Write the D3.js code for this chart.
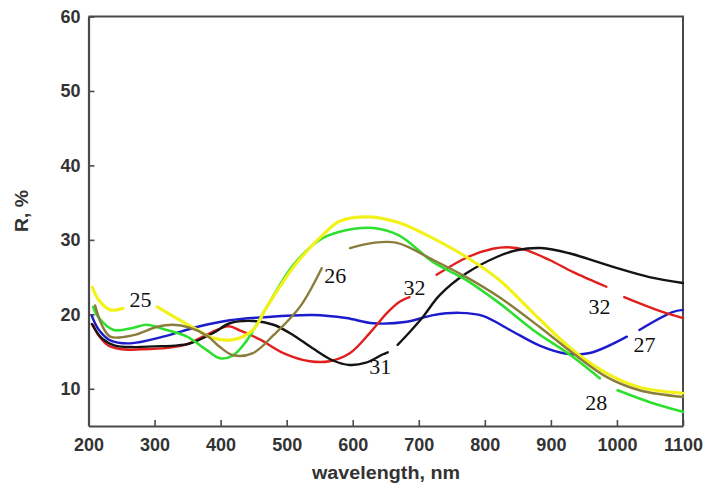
<!DOCTYPE html>
<html>
<head>
<meta charset="utf-8">
<script src="https://cdn.jsdelivr.net/npm/d3@7"></script>
<style>
  html, body { margin: 0; padding: 0; background: #fff; }
  svg { display: block; }
</style>
</head>
<body>
<svg id="chart" width="705" height="488"></svg>
<script>
// Reflectance spectra R(λ), %; null marks a break in a line where its label sits.
const xTicks = [200, 300, 400, 500, 600, 700, 800, 900, 1000, 1100];
const yTicks = [10, 20, 30, 40, 50, 60];

const wl25 = [206, 215, 233, 252, 278, 304, 331, 361, 389, 419, 449, 470, 515, 560, 580, 621, 667, 706, 772, 822, 873, 933, 984, 1034, 1100];
const r25  = [23.6, 22.0, 20.6, 20.8, null, 21.0, 19.6, 18.1, 16.8, 16.6, 17.9, 21.0, 26.9, 31.1, 32.5, 33.1, 32.4, 30.9, 27.7, 24.6, 20.2, 15.2, 12.1, 10.2, 9.4];

const wl26 = [210, 220, 233, 268, 303, 328, 353, 380, 399, 419, 449, 480, 520, 553, 575, 596, 631, 667, 722, 772, 822, 883, 933, 984, 1034, 1100];
const r26  = [21.2, 18.6, 17.0, 17.2, 18.3, 18.6, 18.2, 17.1, 15.6, 14.5, 14.8, 17.2, 21.0, 26.2, null, 28.9, 29.6, 29.6, 27.3, 25.0, 22.3, 18.3, 14.8, 11.6, 9.8, 8.9];

const wl27 = [205, 215, 233, 263, 313, 364, 414, 464, 540, 590, 631, 682, 722, 762, 797, 838, 883, 924, 959, 1015, 1025, 1034, 1084, 1100];
const r27  = [19.8, 18.0, 16.5, 16.1, 17.0, 18.3, 19.2, 19.6, 19.9, 19.5, 18.8, 19.0, 19.9, 20.2, 19.8, 17.9, 15.8, 14.7, 14.8, 17.0, null, 17.9, 20.3, 20.6];

const wl28 = [207, 215, 238, 268, 288, 318, 349, 379, 399, 419, 439, 470, 510, 550, 580, 631, 670, 722, 772, 822, 873, 933, 974, 988, 1001, 1050, 1100];
const r28  = [21.0, 19.6, 17.9, 18.2, 18.6, 17.9, 17.0, 15.2, 14.1, 14.5, 16.4, 21.0, 26.6, 30.0, 31.1, 31.6, 30.6, 27.0, 24.6, 21.5, 17.9, 14.3, 11.4, null, 9.8, 8.2, 6.9];

const wl31 = [205, 220, 240, 270, 300, 330, 354, 389, 414, 450, 480, 510, 540, 570, 595, 620, 645, 653, 660, 668, 686, 705, 732, 772, 818, 848, 885, 928, 993, 1049, 1100];
const r31  = [18.7, 16.8, 15.8, 15.6, 15.7, 15.8, 16.1, 17.5, 18.8, 19.1, 18.6, 17.2, 15.4, 13.8, 13.2, 13.5, 14.6, 14.9, null, 15.9, 17.6, 19.5, 22.6, 25.5, 27.7, 28.6, 28.9, 28.2, 26.4, 25.0, 24.2];

const wl32 = [207, 215, 230, 250, 280, 320, 350, 380, 412, 430, 460, 495, 535, 565, 596, 626, 652, 671, 686, 705, 727, 772, 812, 835, 860, 898, 933, 984, 998, 1011, 1060, 1100];
const r32  = [18.6, 17.2, 15.8, 15.3, 15.3, 15.5, 16.0, 17.3, 18.4, 17.8, 16.6, 14.8, 13.7, 13.7, 14.8, 17.5, 20.2, 21.7, 22.3, null, 25.3, 27.6, 28.8, 29.0, 28.7, 27.3, 25.7, 23.7, null, 22.3, 20.6, 19.5];

const seriesNames  = ["27", "32", "31", "28", "25", "26"];
const seriesColors = ["#1c1ccc", "#e0201e", "#141414", "#2ee02e", "#f2f21a", "#8a7d3c"];
const seriesWidths = [2.4, 2.4, 2.4, 2.6, 3.2, 2.4];
const seriesWl = { "25": wl25, "26": wl26, "27": wl27, "28": wl28, "31": wl31, "32": wl32 };
const seriesR  = { "25": r25,  "26": r26,  "27": r27,  "28": r28,  "31": r31,  "32": r32 };

// Curve labels: text, wavelength and reflectance of the label baseline start
const labelText = ["25", "26", "32", "31", "32", "27", "28"];
const labelWl   = [262, 557, 677, 625, 957, 1025, 952];
const labelR    = [21.0, 24.2, 22.6, 12.0, 20.0, 15.0, 7.1];

const svg = d3.select("#chart");
const x = d3.scaleLinear().domain([200, 1100]).range([88.5, 683]);
const y = d3.scaleLinear().domain([5, 60]).range([426, 16.5]);

const axisColor = "#4a4a4a";
const fmt = d3.format("d");
const sans = "Liberation Sans, Arial, sans-serif";

// Frame (top and right edges)
svg.append("path")
  .attr("d", `M${x(200)},${y(60)}H${x(1100)}V${y(5)}`)
  .attr("fill", "none").attr("stroke", axisColor).attr("stroke-width", 2);

// Bottom axis with inward ticks
const gx = svg.append("g").attr("transform", `translate(0,${y(5)})`)
  .call(d3.axisBottom(x).tickValues(xTicks).tickFormat(fmt).tickSizeInner(-6).tickSizeOuter(0).tickPadding(12));
gx.select(".domain").attr("stroke", axisColor).attr("stroke-width", 2.2);
gx.selectAll(".tick line").attr("stroke", axisColor).attr("stroke-width", 1.6);
gx.selectAll(".tick text")
  .attr("font-family", sans)
  .attr("font-size", 18).attr("font-weight", "bold").attr("fill", "#333");

// Left axis with inward ticks
const gy = svg.append("g").attr("transform", `translate(${x(200)},0)`)
  .call(d3.axisLeft(y).tickValues(yTicks).tickFormat(fmt).tickSizeInner(-6).tickSizeOuter(0).tickPadding(8));
gy.select(".domain").attr("stroke", axisColor).attr("stroke-width", 2.2);
gy.selectAll(".tick line").attr("stroke", axisColor).attr("stroke-width", 1.6);
gy.selectAll(".tick text")
  .attr("font-family", sans)
  .attr("font-size", 18).attr("font-weight", "bold").attr("fill", "#333");

// Axis titles
svg.append("text")
  .attr("x", 386).attr("y", 479)
  .attr("text-anchor", "middle")
  .attr("font-family", sans)
  .attr("font-size", 18).attr("font-weight", "bold").attr("fill", "#333")
  .attr("textLength", 148).attr("lengthAdjust", "spacingAndGlyphs")
  .text("wavelength, nm");

svg.append("text")
  .attr("transform", "translate(28,211) rotate(-90)")
  .attr("text-anchor", "middle")
  .attr("font-family", sans)
  .attr("font-size", 18).attr("font-weight", "bold").attr("fill", "#333")
  .attr("textLength", 42).attr("lengthAdjust", "spacingAndGlyphs")
  .text("R, %");

// Spectra
const line = d3.line()
  .defined(d => d[1] !== null)
  .x(d => x(d[0]))
  .y(d => y(d[1]))
  .curve(d3.curveCatmullRom.alpha(0.5));

seriesNames.forEach((name, i) => {
  const pts = seriesWl[name].map((w, k) => [w, seriesR[name][k]]);
  svg.append("path")
    .datum(pts)
    .attr("d", line)
    .attr("fill", "none")
    .attr("stroke", seriesColors[i])
    .attr("stroke-width", seriesWidths[i])
    .attr("stroke-linecap", "round")
    .attr("stroke-linejoin", "round");
});

// Curve labels
labelText.forEach((t, i) => {
  svg.append("text")
    .attr("x", x(labelWl[i]))
    .attr("y", y(labelR[i]))
    .attr("font-family", "Liberation Serif, Times New Roman, serif")
    .attr("font-size", 22)
    .attr("fill", "#111")
    .text(t);
});
</script>
</body>
</html>
